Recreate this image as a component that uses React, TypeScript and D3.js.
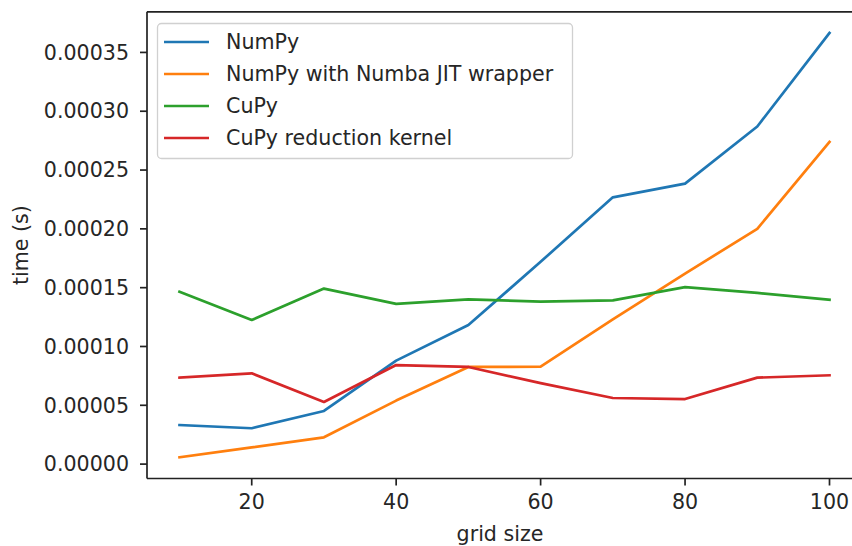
import { useMemo } from 'react';
import * as d3 from 'd3';

const gridSizes = [10, 20, 30, 40, 50, 60, 70, 80, 90, 100];
const numpyTimes = [0.0000332, 0.0000305, 0.0000452, 0.000088, 0.0001182, 0.000172, 0.0002268, 0.0002385, 0.000287, 0.0003665];
const numbaTimes = [0.0000058, 0.0000142, 0.0000228, 0.000054, 0.0000826, 0.0000828, 0.000123, 0.000162, 0.0002, 0.000274];
const cupyTimes = [0.0001465, 0.0001225, 0.0001492, 0.0001362, 0.00014, 0.0001382, 0.0001392, 0.0001505, 0.0001455, 0.0001398];
const kernelTimes = [0.0000735, 0.0000772, 0.0000528, 0.0000842, 0.0000826, 0.0000688, 0.0000562, 0.0000553, 0.0000735, 0.0000755];

const seriesNames = ['NumPy', 'NumPy with Numba JIT wrapper', 'CuPy', 'CuPy reduction kernel'];
const seriesColours = ['#1f77b4', '#ff7f0e', '#2ca02c', '#d62728'];
const yTicks = [0, 0.00005, 0.0001, 0.00015, 0.0002, 0.00025, 0.0003, 0.00035];
const xTicks = [20, 40, 60, 80, 100];

const WIDTH = 852;
const HEIGHT = 546;
const FONT = "'DejaVu Sans', sans-serif";
const FONT_SIZE = 20.6;

export default function App() {
  const series = [numpyTimes, numbaTimes, cupyTimes, kernelTimes];

  const { x, y } = useMemo(() => {
    const [xMin, xMax] = d3.extent(gridSizes) as [number, number];
    const all = series.flat();
    const [yMin, yMax] = d3.extent(all) as [number, number];
    const xPad = (xMax - xMin) * 0.05;
    const yPad = (yMax - yMin) * 0.05;
    return {
      x: d3.scaleLinear().domain([xMin - xPad, xMax + xPad]).range([147, 862]),
      y: d3.scaleLinear().domain([yMin - yPad, yMax + yPad]).range([478.5, 11.8]),
    };
  }, []);

  const line = d3
    .line<number>()
    .x((_, i) => x(gridSizes[i]))
    .y((v) => y(v));

  const [left, right] = x.range();
  const [bottom, top] = y.range();

  return (
    <svg
      width={WIDTH}
      height={HEIGHT}
      style={{ position: 'absolute', left: 0, top: 0, background: '#fff' }}
      fontFamily={FONT}
    >
      {series.map((values, i) => (
        <path
          key={seriesNames[i]}
          d={line(values) ?? ''}
          fill="none"
          stroke={seriesColours[i]}
          strokeWidth={2.7}
          strokeLinejoin="round"
          strokeLinecap="square"
        />
      ))}

      {/* spines */}
      <line x1={left} x2={left} y1={top} y2={bottom} stroke="#222" strokeWidth={1.7} />
      <line x1={left} x2={right} y1={bottom} y2={bottom} stroke="#222" strokeWidth={1.7} />
      <line x1={left} x2={right} y1={top} y2={top} stroke="#222" strokeWidth={1.7} />
      <line x1={right} x2={right} y1={top} y2={bottom} stroke="#222" strokeWidth={1.7} />

      {yTicks.map((t) => (
        <g key={t} transform={`translate(0,${y(t)})`}>
          <line x1={left - 7} x2={left} stroke="#222" strokeWidth={1.7} />
          <text x={left - 18} dy="0.35em" textAnchor="end" fontSize={FONT_SIZE} fill="#262626">
            {t.toFixed(5)}
          </text>
        </g>
      ))}

      {xTicks.map((t) => (
        <g key={t} transform={`translate(${x(t)},0)`}>
          <line y1={bottom} y2={bottom + 7} stroke="#222" strokeWidth={1.7} />
          <text y={bottom + 30} textAnchor="middle" fontSize={FONT_SIZE} fill="#262626">
            {t}
          </text>
        </g>
      ))}

      <text x={500} y={541} textAnchor="middle" fontSize={FONT_SIZE} fill="#262626">
        grid size
      </text>
      <text
        transform={`translate(28,${(top + bottom) / 2}) rotate(-90)`}
        textAnchor="middle"
        fontSize={FONT_SIZE}
        fill="#262626"
      >
        time (s)
      </text>

      {/* legend */}
      <g>
        <rect
          x={157.5}
          y={23.5}
          width={415}
          height={135}
          rx={4}
          fill="#fff"
          fillOpacity={0.8}
          stroke="#d0d0d0"
          strokeWidth={1.3}
        />
        {seriesNames.map((name, i) => {
          const cy = 42 + i * 32;
          return (
            <g key={name}>
              <line x1={164} x2={209} y1={cy} y2={cy} stroke={seriesColours[i]} strokeWidth={2.7} />
              <text x={226} y={cy} dy="0.35em" fontSize={FONT_SIZE} fill="#262626">
                {name}
              </text>
            </g>
          );
        })}
      </g>
    </svg>
  );
}
